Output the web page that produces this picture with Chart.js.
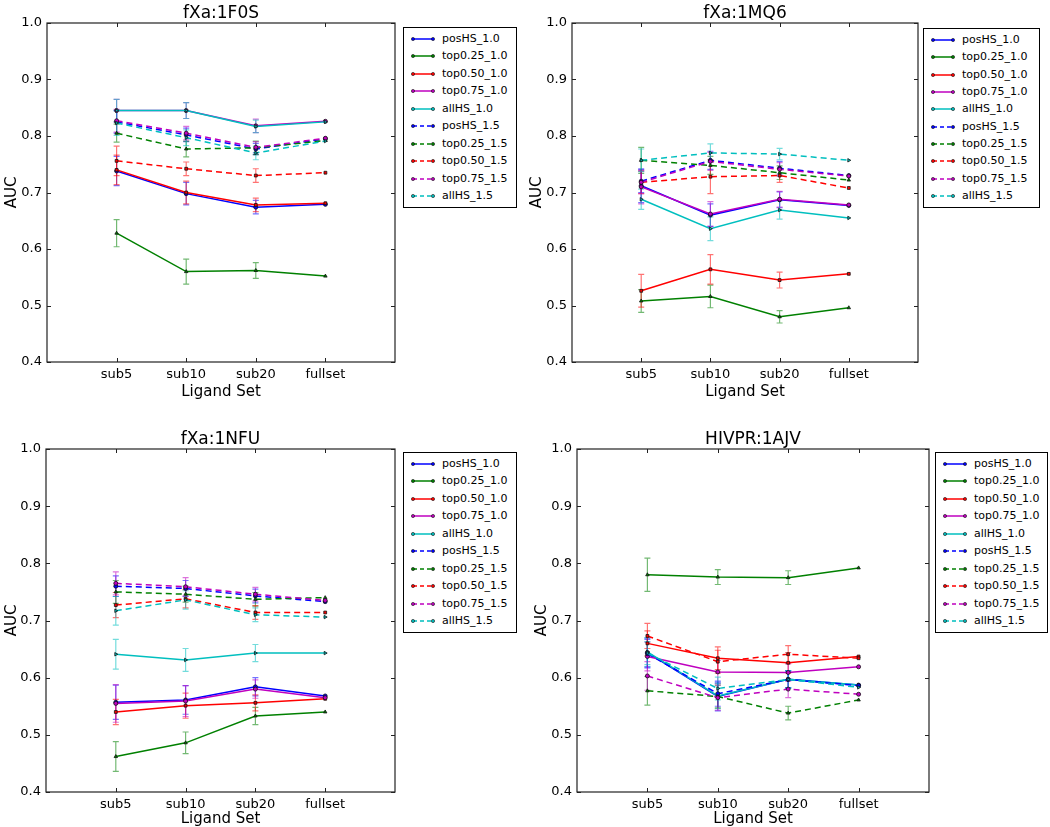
<!DOCTYPE html>
<html>
<head>
<meta charset="utf-8">
<script src="https://cdn.jsdelivr.net/npm/chart.js@4.4.7/dist/chart.umd.min.js"></script>
<style>
*{margin:0;padding:0;box-sizing:border-box}
body{width:1050px;height:827px;background:#fff;position:relative;overflow:hidden;font-family:'DejaVu Sans',sans-serif}
canvas{position:absolute}
.legend{position:absolute;border:1px solid #000;background:#fff;font-size:11px;color:#000}
.legend .row{position:absolute;left:0;height:18px;line-height:18px;white-space:nowrap}
.legend svg{position:absolute;left:6px;top:6px}
.legend span{position:absolute;left:38px}
</style>
</head>
<body>
<script>
// x categories and series
const categories = ['sub5', 'sub10', 'sub20', 'fullset'];
const seriesNames = ['posHS_1.0', 'top0.25_1.0', 'top0.50_1.0', 'top0.75_1.0', 'allHS_1.0',
                     'posHS_1.5', 'top0.25_1.5', 'top0.50_1.5', 'top0.75_1.5', 'allHS_1.5'];
const seriesColors = ['#0000ff', '#008000', '#ff0000', '#bf00bf', '#00bfbf',
                      '#0000ff', '#008000', '#ff0000', '#bf00bf', '#00bfbf'];
const yTickValues = [0.4, 0.5, 0.6, 0.7, 0.8, 0.9, 1.0];

// fXa:1F0S  (rows follow seriesNames, columns follow categories)
const auc1F0S = [
  [0.738, 0.698, 0.674, 0.679],
  [0.628, 0.560, 0.562, 0.552],
  [0.740, 0.700, 0.678, 0.681],
  [0.845, 0.845, 0.818, 0.826],
  [0.845, 0.845, 0.817, 0.825],
  [0.825, 0.802, 0.777, 0.795],
  [0.805, 0.777, 0.779, 0.792],
  [0.756, 0.742, 0.730, 0.735],
  [0.827, 0.805, 0.780, 0.796],
  [0.823, 0.797, 0.770, 0.791]
];
const err1F0S = [
  [0.026, 0.020, 0.012, 0], [0.024, 0.022, 0.014, 0], [0.026, 0.020, 0.012, 0],
  [0.020, 0.014, 0.012, 0], [0.020, 0.014, 0.011, 0], [0.020, 0.012, 0.010, 0],
  [0.016, 0.014, 0.012, 0], [0.026, 0.012, 0.012, 0], [0.020, 0.012, 0.010, 0],
  [0.022, 0.014, 0.012, 0]
];

// fXa:1MQ6
const auc1MQ6 = [
  [0.712, 0.660, 0.687, 0.677],
  [0.508, 0.516, 0.480, 0.496],
  [0.526, 0.564, 0.545, 0.556],
  [0.710, 0.662, 0.688, 0.678],
  [0.688, 0.636, 0.669, 0.655],
  [0.720, 0.757, 0.743, 0.730],
  [0.757, 0.748, 0.735, 0.722],
  [0.718, 0.728, 0.730, 0.708],
  [0.718, 0.755, 0.741, 0.729],
  [0.757, 0.770, 0.768, 0.757]
];
const err1MQ6 = [
  [0.030, 0.020, 0.014, 0], [0.020, 0.020, 0.011, 0], [0.029, 0.026, 0.014, 0],
  [0.030, 0.022, 0.014, 0], [0.018, 0.021, 0.016, 0], [0.020, 0.016, 0.012, 0],
  [0.023, 0.016, 0.012, 0], [0.020, 0.030, 0.012, 0], [0.020, 0.016, 0.012, 0],
  [0.020, 0.016, 0.010, 0]
];

// fXa:1NFU
const auc1NFU = [
  [0.557, 0.561, 0.584, 0.568],
  [0.462, 0.486, 0.533, 0.540],
  [0.540, 0.551, 0.556, 0.563],
  [0.555, 0.559, 0.580, 0.565],
  [0.641, 0.631, 0.643, 0.643],
  [0.760, 0.756, 0.743, 0.733],
  [0.750, 0.746, 0.737, 0.740],
  [0.727, 0.738, 0.714, 0.714],
  [0.765, 0.759, 0.746, 0.735],
  [0.717, 0.736, 0.710, 0.706]
];
const err1NFU = [
  [0.030, 0.025, 0.016, 0], [0.026, 0.019, 0.015, 0], [0.022, 0.022, 0.014, 0],
  [0.033, 0.027, 0.016, 0], [0.026, 0.020, 0.015, 0], [0.018, 0.014, 0.012, 0],
  [0.020, 0.014, 0.012, 0], [0.022, 0.016, 0.012, 0], [0.020, 0.016, 0.012, 0],
  [0.025, 0.016, 0.012, 0]
];

// HIVPR:1AJV
const auc1AJV = [
  [0.644, 0.567, 0.597, 0.587],
  [0.780, 0.776, 0.775, 0.792],
  [0.660, 0.634, 0.626, 0.637],
  [0.637, 0.610, 0.609, 0.619],
  [0.645, 0.568, 0.597, 0.587],
  [0.642, 0.572, 0.597, 0.586],
  [0.577, 0.567, 0.538, 0.561],
  [0.673, 0.628, 0.641, 0.634],
  [0.603, 0.565, 0.580, 0.571],
  [0.643, 0.581, 0.597, 0.583]
];
const err1AJV = [
  [0.025, 0.025, 0.015, 0], [0.029, 0.013, 0.012, 0], [0.022, 0.020, 0.018, 0],
  [0.025, 0.020, 0.015, 0], [0.025, 0.022, 0.015, 0], [0.025, 0.022, 0.015, 0],
  [0.025, 0.020, 0.012, 0], [0.022, 0.020, 0.015, 0], [0.025, 0.022, 0.015, 0],
  [0.020, 0.020, 0.015, 0]
];

const markerStyles = ['circle', 'triangle', 'rect', 'circle', 'triangle'];
const markerRot = [0, 0, 0, 0, 90];

// layout of the four panels (canvas box + plot insets + legend box)
const panels = [
  { title: 'fXa:1F0S', auc: auc1F0S, err: err1F0S, left: 0, top: 0, w: 400, h: 405,
    yW: 47, padR: 5, padT: 23, xH: 43, xPadB: 4, legend: { left: 403, top: 27, w: 114, h: 181 } },
  { title: 'fXa:1MQ6', auc: auc1MQ6, err: err1MQ6, left: 525, top: 0, w: 400, h: 405,
    yW: 47, padR: 7, padT: 23, xH: 43, xPadB: 4, legend: { left: 923, top: 28, w: 117, h: 180 } },
  { title: 'fXa:1NFU', auc: auc1NFU, err: err1NFU, left: 0, top: 426, w: 400, h: 401,
    yW: 46, padR: 5, padT: 23, xH: 35, xPadB: -1, legend: { left: 403, top: 452, w: 114, h: 181 } },
  { title: 'HIVPR:1AJV', auc: auc1AJV, err: err1AJV, left: 530, top: 426, w: 405, h: 401,
    yW: 47, padR: 6, padT: 23, xH: 35, xPadB: -1, legend: { left: 935, top: 452, w: 113, h: 181 } }
];

Chart.defaults.font.family = "'DejaVu Sans', sans-serif";
Chart.defaults.color = '#000';

// error bars, frame, inward ticks and the title
const framePlugin = {
  id: 'frame',
  beforeDatasetsDraw(chart) {
    const { ctx, scales: { x, y } } = chart;
    ctx.save();
    chart.data.datasets.forEach(ds => {
      ds.data.forEach((p, j) => {
        const e = ds.errors[j];
        if (!e) return;
        const px = x.getPixelForValue(p.x);
        const y0 = y.getPixelForValue(p.y - e), y1 = y.getPixelForValue(p.y + e);
        ctx.strokeStyle = ds.borderColor;
        ctx.globalAlpha = 0.55;
        ctx.lineWidth = 1.2;
        ctx.beginPath();
        ctx.moveTo(px, y0); ctx.lineTo(px, y1);
        ctx.moveTo(px - 3, y0); ctx.lineTo(px + 3, y0);
        ctx.moveTo(px - 3, y1); ctx.lineTo(px + 3, y1);
        ctx.stroke();
      });
    });
    ctx.restore();
  },
  afterDraw(chart) {
    const { ctx, chartArea: a, scales: { x, y } } = chart;
    ctx.save();
    ctx.strokeStyle = '#222';
    ctx.lineWidth = 1.2;
    ctx.strokeRect(a.left, a.top, a.right - a.left, a.bottom - a.top);
    ctx.lineWidth = 1;
    ctx.beginPath();
    categories.forEach((c, i) => {
      const px = Math.round(x.getPixelForValue(i + 1)) + 0.5;
      ctx.moveTo(px, a.bottom); ctx.lineTo(px, a.bottom - 4);
      ctx.moveTo(px, a.top); ctx.lineTo(px, a.top + 4);
    });
    yTickValues.forEach(v => {
      const py = Math.round(y.getPixelForValue(v)) + 0.5;
      ctx.moveTo(a.left, py); ctx.lineTo(a.left + 4, py);
      ctx.moveTo(a.right, py); ctx.lineTo(a.right - 4, py);
    });
    ctx.stroke();
    ctx.fillStyle = '#000';
    ctx.font = "17px 'DejaVu Sans', sans-serif";
    ctx.textAlign = 'center';
    ctx.textBaseline = 'alphabetic';
    ctx.fillText(chart.options.plugins.frame.title, (a.left + a.right) / 2, a.top - 5);
    ctx.restore();
  }
};

panels.forEach(p => {
  const cv = document.createElement('canvas');
  cv.width = p.w; cv.height = p.h;
  cv.style.left = p.left + 'px'; cv.style.top = p.top + 'px';
  cv.style.width = p.w + 'px'; cv.style.height = p.h + 'px';
  document.body.appendChild(cv);

  const datasets = seriesNames.map((name, i) => ({
    label: name,
    data: categories.map((c, j) => ({ x: j + 1, y: p.auc[i][j] })),
    errors: p.err[i],
    borderColor: seriesColors[i],
    backgroundColor: seriesColors[i],
    borderWidth: 1.5,
    borderDash: i >= 5 ? [6, 4] : [],
    pointStyle: markerStyles[i % 5],
    pointRotation: markerRot[i % 5],
    pointRadius: 2,
    pointBorderWidth: 0.8,
    pointBorderColor: '#111',
    pointBackgroundColor: seriesColors[i],
    tension: 0,
    order: 10 - i
  }));

  new Chart(cv, {
    type: 'line',
    data: { datasets },
    options: {
      responsive: false, animation: false,
      layout: { padding: { top: p.padT, right: p.padR, left: 0, bottom: 0 } },
      plugins: { legend: { display: false }, tooltip: { enabled: false }, frame: { title: p.title } },
      scales: {
        x: {
          type: 'linear', min: 0, max: 5,
          afterFit: s => { s.height = p.xH; },
          grid: { display: false, drawTicks: false }, border: { display: false },
          ticks: { stepSize: 1, autoSkip: false, maxRotation: 0, padding: 5, font: { size: 13 },
                   callback: v => categories[v - 1] || '' },
          title: { display: true, text: 'Ligand Set', font: { size: 15 }, padding: { top: 0, bottom: p.xPadB } }
        },
        y: {
          min: 0.4, max: 1.0,
          afterFit: s => { s.width = p.yW; },
          grid: { display: false, drawTicks: false }, border: { display: false },
          ticks: { stepSize: 0.1, padding: 5, font: { size: 13 }, callback: v => v.toFixed(1) },
          title: { display: true, text: 'AUC', font: { size: 15 }, padding: { top: 3, bottom: 0 } }
        }
      }
    },
    plugins: [framePlugin]
  });

  // legend box
  const box = document.createElement('div');
  box.className = 'legend';
  Object.assign(box.style, { left: p.legend.left + 'px', top: p.legend.top + 'px',
                             width: p.legend.w + 'px', height: p.legend.h + 'px' });
  const step = (p.legend.h - 24) / 9;
  seriesNames.forEach((name, i) => {
    const row = document.createElement('div');
    row.className = 'row';
    row.style.top = (2 + i * step) + 'px';
    const dash = i >= 5 ? ' stroke-dasharray="4,3"' : '';
    row.innerHTML = '<svg width="26" height="6"><line x1="3" y1="3" x2="23" y2="3" stroke="' + seriesColors[i] +
      '" stroke-width="1.5"' + dash + '/><circle cx="3" cy="3" r="1.6" fill="' + seriesColors[i] +
      '" stroke="#111" stroke-width="0.6"/><circle cx="23" cy="3" r="1.6" fill="' + seriesColors[i] +
      '" stroke="#111" stroke-width="0.6"/></svg><span>' + name + '</span>';
    box.appendChild(row);
  });
  document.body.appendChild(box);
});
</script>
</body>
</html>
